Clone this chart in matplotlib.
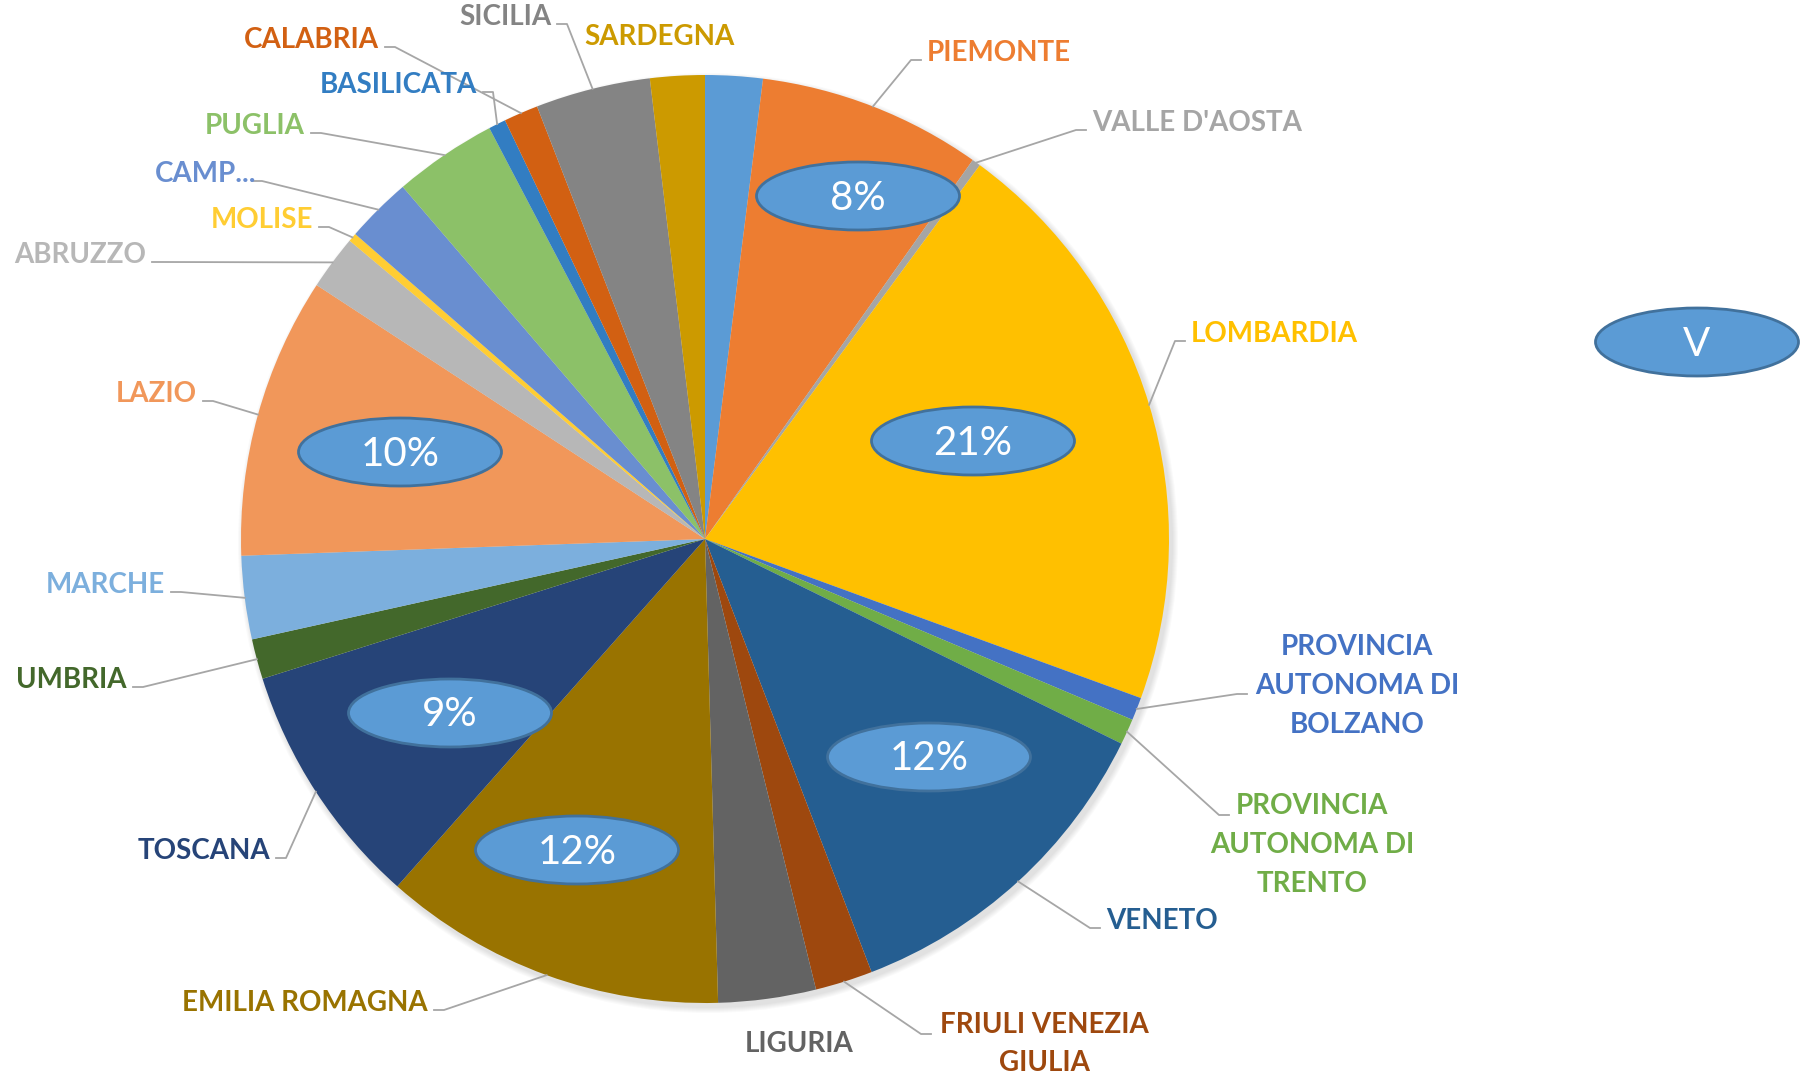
import numpy as np
import matplotlib.pyplot as plt
from matplotlib.patches import Ellipse, Circle

# data (share of total, %), clockwise from 12 o'clock
regions = ['', 'PIEMONTE', "VALLE D'AOSTA", 'LOMBARDIA',
           'PROVINCIA\nAUTONOMA DI\nBOLZANO', 'PROVINCIA\nAUTONOMA DI\nTRENTO',
           'VENETO', 'FRIULI VENEZIA\nGIULIA', 'LIGURIA', 'EMILIA ROMAGNA',
           'TOSCANA', 'UMBRIA', 'MARCHE', 'LAZIO', 'ABRUZZO', 'MOLISE',
           'CAMP...', 'PUGLIA', 'BASILICATA', 'CALABRIA', 'SICILIA', 'SARDEGNA']
values = [2.0, 7.8, 0.3, 20.5, 0.8, 0.9, 11.9, 2.0, 3.4, 12.0, 8.6, 1.4,
          2.9, 9.8, 1.9, 0.3, 2.3, 3.6, 0.6, 1.2, 4.0, 1.9]
pct_labels = ['V', '8%', '', '21%', '', '', '12%', '', '', '12%', '9%', '',
              '', '10%', '', '', '', '', '', '', '', '']
colors = ['#5B9BD5', '#ED7D31', '#A5A5A5', '#FFC000', '#4472C4', '#70AD47',
          '#255E91', '#9E480E', '#636363', '#997300', '#264478', '#43682B',
          '#7CAFDD', '#F1975A', '#B7B7B7', '#FFCD33', '#698ED0', '#8CC168',
          '#327DC2', '#D26012', '#848484', '#CC9A00']

W, H = 1806, 1081
cx, cy, R = 705, 539, 464

# label layout in pixels from top-left: x, y, ha, leader end (or None), elbow side
label_pos = [
    None,
    (927, 53, 'left', (921, 60), -1),
    (1092, 123, 'left', (1086, 130), -1),
    (1191, 334, 'left', (1185, 341), -1),
    (1357, 686, 'center', (1247, 694), -1),
    (1312, 845, 'center', (1229, 815), -1),
    (1106, 921, 'left', (1100, 928), -1),
    (1044, 1044, 'center', (931, 1034), -1),
    (799, 1044, 'center', None, 0),
    (428, 1003, 'right', (434, 1010), 1),
    (270, 851, 'right', (276, 858), 1),
    (127, 680, 'right', (133, 687), 1),
    (165, 585, 'right', (171, 592), 1),
    (197, 394, 'right', (203, 401), 1),
    (146, 255, 'right', (152, 262), 1),
    (313, 220, 'right', (319, 227), 1),
    (256, 174, 'right', (252, 181), 1),
    (305, 126, 'right', (311, 133), 1),
    (477, 85, 'right', (483, 92), 1),
    (379, 40, 'right', (385, 47), 1),
    (551, 17, 'right', (557, 24), 1),
    (659, 37, 'center', None, 0),
]
pct_pos = [(1697, 342), (858, 196), None, (973, 441), None, None, (929, 757),
           None, None, (577, 850), (450, 713), None, None, (400, 452)] + [None] * 8

plt.rcParams['font.family'] = ['Lato', 'DejaVu Sans']

fig = plt.figure(figsize=(W / 100, H / 100), dpi=100)
ax = fig.add_axes([0, 0, 1, 1])

# soft shadow
for i in range(6):
    ax.add_patch(Circle((cx + 3, H - cy - 4), R + 6 - i, color='black', alpha=0.02, lw=0, zorder=0))

wedges, _ = ax.pie(values, colors=colors, startangle=90, counterclock=False,
                   center=(cx, H - cy), radius=R,
                   wedgeprops=dict(linewidth=0))
ax.set_xlim(0, W)
ax.set_ylim(0, H)
ax.set_aspect('equal')
ax.axis('off')

for i, w in enumerate(wedges):
    lp = label_pos[i]
    if lp is None:
        continue
    x, y, ha, attach, side = lp
    ax.text(x, H - y, regions[i], ha=ha, va='center', color=colors[i],
            fontsize=20, fontweight='bold', linespacing=1.6, zorder=5)
    if attach is not None:
        mid = np.deg2rad((w.theta1 + w.theta2) / 2)
        ex = cx + R * np.cos(mid)
        ey = (H - cy) + R * np.sin(mid)
        ax_, ay_ = attach
        elbow = ax_ + 10 * side
        ax.plot([ex, elbow, ax_], [ey, H - ay_, H - ay_], color='#A6A6A6', lw=1.3, zorder=4)

for i, p in enumerate(pct_pos):
    if p is None:
        continue
    px, py = p
    ax.add_patch(Ellipse((px, H - py), 203, 68, facecolor='#5B9BD5',
                         edgecolor='#41719C', lw=2, zorder=6))
    ax.text(px, H - py - 2, pct_labels[i], ha='center', va='center', color='white',
            fontsize=29, zorder=7)

fig.savefig('out.png', dpi=100)
